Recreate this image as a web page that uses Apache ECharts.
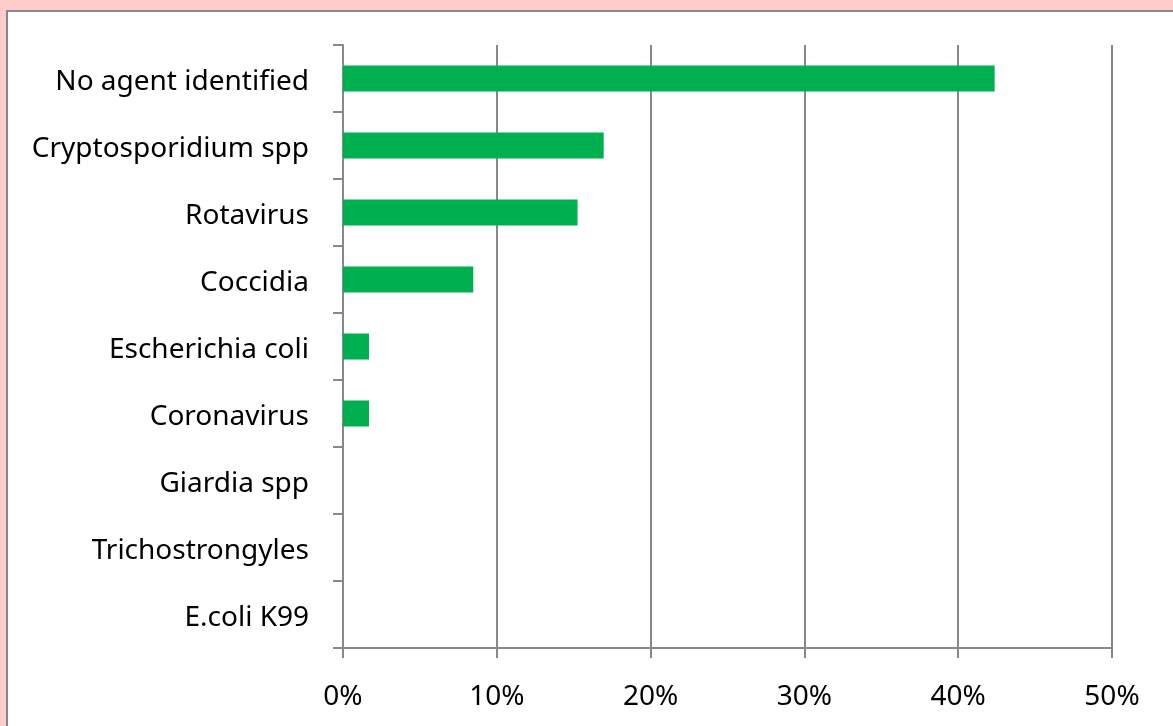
<!DOCTYPE html>
<html><head><meta charset="utf-8">
<script src="https://cdn.jsdelivr.net/npm/echarts@6/dist/echarts.min.js"></script>
<style>html,body{margin:0;padding:0;background:#FFCCCC;}#c{width:1173px;height:726px;}</style>
</head><body><div id="c"></div>
<script>
const categories = ["No agent identified","Cryptosporidium spp","Rotavirus","Coccidia","Escherichia coli","Coronavirus","Giardia spp","Trichostrongyles","E.coli K99"];
const values = [42.37, 16.95, 15.25, 8.47, 1.69, 1.69, 0, 0, 0];
const xTicks = [0, 10, 20, 30, 40, 50];

const chart = echarts.init(document.getElementById('c'));
const FONT = "Noto Sans";
chart.setOption({
  animation: false,
  backgroundColor: '#FFCCCC',
  graphic: [{type:'rect', z:-10, shape:{x:7,y:11,width:1200,height:800}, style:{fill:'#fff',stroke:'#888',lineWidth:2}}],
  grid: {left:343, right:61, top:45, bottom:78, containLabel:false},
  xAxis: {
    type:'value', min:xTicks[0], max:xTicks[xTicks.length-1], interval:10,
    axisLine:{show:true, lineStyle:{color:'#888', width:2}},
    axisTick:{show:true, length:10, lineStyle:{color:'#888', width:2}},
    splitLine:{show:true, lineStyle:{color:'#888', width:2}},
    axisLabel:{formatter: v => v + '%', color:'#000', fontSize:28, fontFamily:FONT, margin:35}
  },
  yAxis: {
    type:'category', data:categories, inverse:true,
    axisLine:{show:true, lineStyle:{color:'#888', width:2}},
    axisTick:{show:true, length:10, lineStyle:{color:'#888', width:2}},
    axisLabel:{color:'#000', fontSize:28, fontFamily:FONT, margin:34,
      formatter: v => '{a|' + v + '}',
      rich:{a:{fontSize:28, fontFamily:FONT, color:'#000', padding:[8,0,0,0]}}}
  },
  series: [{type:'bar', data:values, barWidth:26, itemStyle:{color:'#00B050'}}]
});
</script></body></html>
